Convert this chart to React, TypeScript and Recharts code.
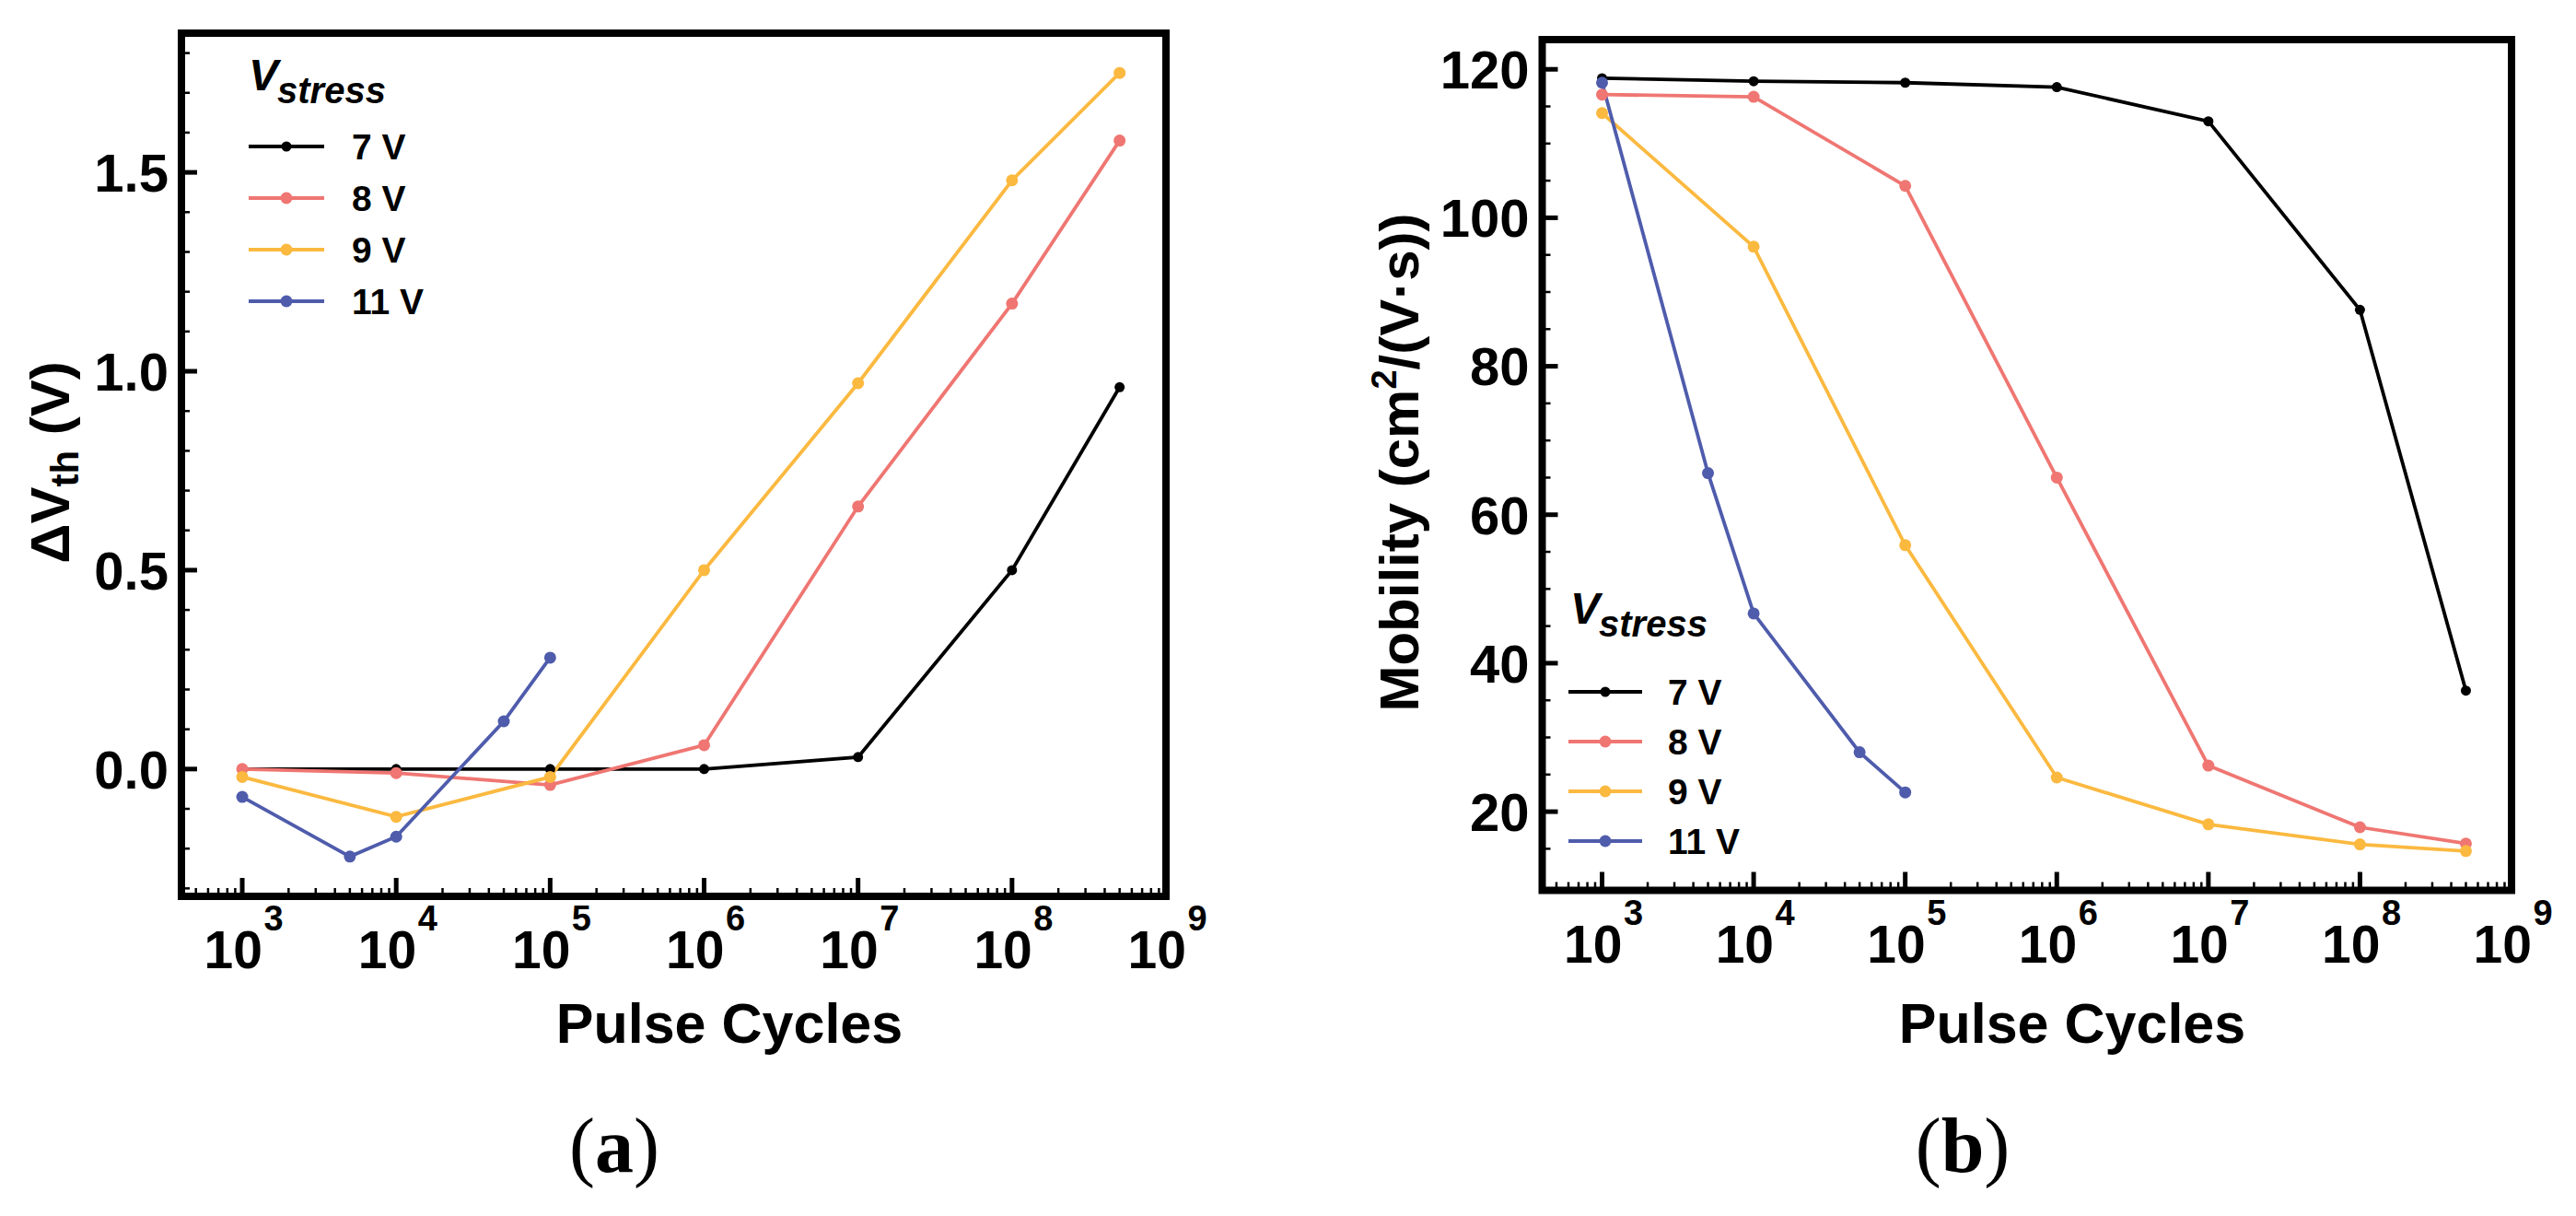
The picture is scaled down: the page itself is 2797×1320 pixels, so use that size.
import React from 'react';
import { LineChart, Line, XAxis, YAxis, ReferenceArea, Legend, Label } from 'recharts';

// pulse cycles at which each device was measured
const cyclesMain = [1e3, 1e4, 1e5, 1e6, 1e7, 1e8, 5e8];
const cycles11V = [1e3, 5e3, 1e4, 5e4, 1e5];

// (a) threshold voltage shift, V
const dvth7V = [0, 0, 0, 0, 0.03, 0.5, 0.96];
const dvth8V = [0, -0.01, -0.04, 0.06, 0.66, 1.17, 1.58];
const dvth9V = [-0.02, -0.12, -0.02, 0.5, 0.97, 1.48, 1.75];
const dvth11V = [-0.07, -0.22, -0.17, 0.12, 0.28];

// (b) mobility, cm2/(V s)
const mob7V = [118.8, 118.4, 118.2, 117.6, 113, 87.6, 36.3];
const mob8V = [116.6, 116.3, 104.3, 65, 26.2, 17.9, 15.7];
const mob9V = [114.1, 96.1, 55.9, 24.6, 18.3, 15.6, 14.7];
const mob11V = [118.2, 65.6, 46.7, 28, 22.6];

const seriesNames = ['7 V', '8 V', '9 V', '11 V'];
const seriesColors = ['#000000', '#EF7672', '#FBB940', '#4F5CAC'];

// axis ticks
const decadeExps = [3, 4, 5, 6, 7, 8, 9];
const minorSteps = [2, 3, 4, 5, 6, 7, 8, 9];
const leadingMinor = [500, 600, 700, 800, 900];
const dvthTicks = [-0.3, -0.2, -0.1, 0, 0.1, 0.2, 0.3, 0.4, 0.5, 0.6, 0.7, 0.8, 0.9, 1.0, 1.1, 1.2, 1.3, 1.4, 1.5, 1.6, 1.7, 1.8];
const dvthMajors = [0, 0.5, 1.0, 1.5];
const mobTicks = [15, 20, 25, 30, 35, 40, 45, 50, 55, 60, 65, 70, 75, 80, 85, 90, 95, 100, 105, 110, 115, 120];
const mobMajors = [20, 40, 60, 80, 100, 120];

const SANS = '"Liberation Sans", Arial, Helvetica, sans-serif';
const SERIF = '"Liberation Serif", "Times New Roman", serif';
const X_MIN = 10 ** 2.605;
const X_MAX = 1e9;
const Y_W = 100;
const X_H = 100;
const H = 1320;

const xTicks = [
  ...leadingMinor,
  ...decadeExps.flatMap((e) => (e === 9 ? [10 ** e] : [10 ** e, ...minorSteps.map((m) => m * 10 ** e)])),
];

const toRows = (xs: number[], ys: number[]) => xs.map((x, i) => ({ x, y: ys[i] }));

function LogTick({ x, y, payload }: any) {
  const v = payload.value;
  const e = Math.round(Math.log10(v));
  const major = Math.abs(v / 10 ** e - 1) < 1e-9;
  return (
    <g>
      <line x1={x} y1={y} x2={x} y2={y - (major ? 20 : 9)} stroke="#000" strokeWidth={major ? 5 : 2.5} />
      {major && (
        <text x={x + 22} y={y + 78} textAnchor="end" fontSize={57} fontWeight="bold" fontFamily={SANS} fill="#000">
          10
        </text>
      )}
      {major && (
        <text x={x + 23.5} y={y + 37} fontSize={38} fontWeight="bold" fontFamily={SANS} fill="#000">
          {e}
        </text>
      )}
    </g>
  );
}

function LinTick({ x, y, payload, majors, digits }: any) {
  const v = payload.value;
  const major = majors.some((m: number) => Math.abs(m - v) < 1e-9);
  return (
    <g>
      <line x1={x} y1={y} x2={x + (major ? 17 : 9)} y2={y} stroke="#000" strokeWidth={major ? 5 : 2.5} />
      {major && (
        <text x={x - 14} y={y} dy="0.36em" textAnchor="end" fontSize={58} fontWeight="bold" fontFamily={SANS} fill="#000">
          {v.toFixed(digits)}
        </text>
      )}
    </g>
  );
}

function makeLegend(lay: any) {
  return ({ payload }: any) => {
    const items = [...(payload || [])].sort(
      (a: any, b: any) => seriesNames.indexOf(a.value) - seriesNames.indexOf(b.value),
    );
    return (
      <svg width={300} height={340} style={{ overflow: 'visible', display: 'block' }}>
        <text x={lay.titleX} y={lay.titleY} fontSize={48} fontWeight="bold" fontStyle="italic" fontFamily={SANS}>
          V
        </text>
        <text x={lay.titleX + 31} y={lay.titleY + 14} fontSize={40} fontWeight="bold" fontStyle="italic" fontFamily={SANS}>
          stress
        </text>
        {items.map((p: any, i: number) => {
          const cy = lay.rowY0 + i * lay.rowGap;
          return (
            <g key={p.value}>
              <line x1={lay.lineX0} y1={cy} x2={lay.lineX0 + lay.lineLen} y2={cy} stroke={p.color} strokeWidth={4} />
              <circle cx={lay.lineX0 + lay.lineLen / 2} cy={cy} r={p.color === '#000000' ? 5.5 : 6.5} fill={p.color} />
              <text x={lay.labelX} y={cy + 14} fontSize={39} fontWeight="bold" fontFamily={SANS}>
                {p.value}
              </text>
            </g>
          );
        })}
      </svg>
    );
  };
}

function Panel({ cfg }: any) {
  const { width, plot, yDomain, yTicks, yMajors, digits, series, legend } = cfg;
  return (
    <div style={{ position: 'absolute', left: cfg.left, top: 0, width, height: H }}>
      <LineChart
        width={width}
        height={H}
        margin={{ top: plot.top, left: plot.left - Y_W, right: width - plot.right, bottom: H - plot.bottom - X_H }}
      >
        <XAxis
          dataKey="x"
          type="number"
          scale="log"
          domain={[X_MIN, X_MAX]}
          allowDataOverflow
          ticks={xTicks}
          interval={0}
          height={X_H}
          tickSize={0}
          tickMargin={0}
          axisLine={false}
          tickLine={false}
          tick={(p: any) => <LogTick {...p} />}
        >
          <Label
            content={() => (
              <text x={cfg.xTitleX} y={1132} textAnchor="middle" fontSize={61} fontWeight="bold" fontFamily={SANS}>
                Pulse Cycles
              </text>
            )}
          />
          <Label
            content={() => (
              <text x={cfg.letterX} y={1272} textAnchor="middle" fontSize={84} fontFamily={SERIF}>
                (<tspan fontWeight="bold">{cfg.letter}</tspan>)
              </text>
            )}
          />
        </XAxis>
        <YAxis
          type="number"
          domain={yDomain}
          allowDataOverflow
          ticks={yTicks}
          interval={0}
          width={Y_W}
          tickSize={0}
          tickMargin={0}
          axisLine={false}
          tickLine={false}
          tick={(p: any) => <LinTick {...p} majors={yMajors} digits={digits} />}
        >
          <Label content={cfg.yTitle} />
        </YAxis>
        <ReferenceArea
          x1={X_MIN}
          x2={X_MAX}
          y1={yDomain[0]}
          y2={yDomain[1]}
          fill="none"
          fillOpacity={0}
          stroke="#000"
          strokeWidth={8}
          ifOverflow="visible"
        />
        {series.map((s: any) => (
          <Line
            key={s.name}
            data={s.rows}
            dataKey="y"
            name={s.name}
            stroke={s.color}
            strokeWidth={3.8}
            dot={{ r: s.color === '#000000' ? 5.5 : 6.5, fill: s.color, stroke: 'none' }}
            activeDot={false}
            isAnimationActive={false}
          />
        ))}
        <Legend
          layout="vertical"
          align="center"
          verticalAlign="middle"
          content={makeLegend(legend)}
          wrapperStyle={{ left: legend.left, top: legend.top, width: 300, height: 340 }}
        />
      </LineChart>
    </div>
  );
}

const panelA = {
  left: 0,
  width: 1400,
  plot: { left: 197, right: 1266, top: 36, bottom: 973 },
  yDomain: [-0.32, 1.85],
  yTicks: dvthTicks,
  yMajors: dvthMajors,
  digits: 1,
  xTitleX: 792,
  letter: 'a',
  letterX: 667,
  series: [
    { name: seriesNames[0], color: seriesColors[0], rows: toRows(cyclesMain, dvth7V) },
    { name: seriesNames[1], color: seriesColors[1], rows: toRows(cyclesMain, dvth8V) },
    { name: seriesNames[2], color: seriesColors[2], rows: toRows(cyclesMain, dvth9V) },
    { name: seriesNames[3], color: seriesColors[3], rows: toRows(cycles11V, dvth11V) },
  ],
  legend: { left: 260, top: 50, titleX: 10, titleY: 48, rowY0: 109, rowGap: 56, lineX0: 10, lineLen: 82, labelX: 122 },
  yTitle: () => (
    <text transform="translate(75,502) rotate(-90)" textAnchor="middle" fontSize={60} fontWeight="bold" fontFamily={SANS}>
      ΔV
      <tspan fontSize={42} dy={10}>th</tspan>
      <tspan dy={-10}> (V)</tspan>
    </text>
  ),
};

const panelB = {
  left: 1400,
  width: 1397,
  plot: { left: 274.5, right: 1327, top: 43, bottom: 966.5 },
  yDomain: [9.4, 124],
  yTicks: mobTicks,
  yMajors: mobMajors,
  digits: 0,
  xTitleX: 850,
  letter: 'b',
  letterX: 731,
  series: [
    { name: seriesNames[0], color: seriesColors[0], rows: toRows(cyclesMain, mob7V) },
    { name: seriesNames[1], color: seriesColors[1], rows: toRows(cyclesMain, mob8V) },
    { name: seriesNames[2], color: seriesColors[2], rows: toRows(cyclesMain, mob9V) },
    { name: seriesNames[3], color: seriesColors[3], rows: toRows(cycles11V, mob11V) },
  ],
  legend: { left: 295, top: 630, titleX: 10, titleY: 47, rowY0: 121, rowGap: 54, lineX0: 8, lineLen: 80, labelX: 116 },
  yTitle: () => (
    <text transform="translate(140,502) rotate(-90)" textAnchor="middle" fontSize={60} fontWeight="bold" fontFamily={SANS}>
      Mobility (cm
      <tspan fontSize={38} dy={-24}>2</tspan>
      <tspan dy={24}>/(V·s))</tspan>
    </text>
  ),
};

export default function App() {
  return (
    <div style={{ position: 'absolute', left: 0, top: 0, width: 2797, height: H, background: '#fff' }}>
      <Panel cfg={panelA} />
      <Panel cfg={panelB} />
    </div>
  );
}
